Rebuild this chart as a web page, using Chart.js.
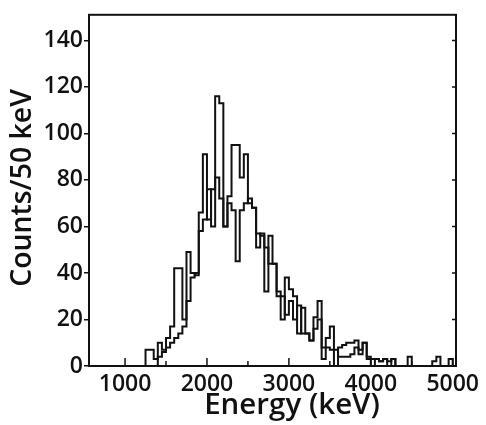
<!DOCTYPE html>
<html lang="en">
<head>
<meta charset="UTF-8">
<title>Energy spectrum</title>
<script src="https://cdn.jsdelivr.net/npm/chart.js"></script>
<style>
    body { margin: 0; background: #fff; }
    .wrap { width: 486px; height: 425px; position: relative; }
</style>
</head>
<body>
<div class="wrap"><canvas id="spectrum"></canvas></div>
<script>
// histogram data, 50 keV bins
const binWidth = 50;
const startA = 1250;
const countsA = [
    7, 7, 3, 10, 7, 12, 17, 42, 42, 20,      // 1250-1700
    49, 40, 39, 66, 91, 63, 76, 116, 113, 60, // 1750-2200
    73, 95, 95, 81, 91, 70, 68, 57, 56, 32,  // 2250-2700
    56, 44, 30, 20, 38, 33, 30, 14, 25, 14,  // 2750-3200
    11, 21, 28, 3, 12, 17, 0, 8, 9, 10,      // 3250-3700
    10, 11, 7, 10, 3, 3, 3, 2, 3, 0,         // 3750-4200
    3, 0, 0, 0, 4, 0, 0, 0, 0, 0,            // 4250-4700
    2, 4, 0, 0, 3                            // 4750-4950
];
const startB = 1400;
const countsB = [
    4, 6, 8, 10, 12, 14, 17,                 // 1400-1700
    28, 38, 40, 58, 63, 76, 60, 81, 72, 60,  // 1750-2200
    70, 67, 45, 67, 70, 72, 68, 51, 57, 51,  // 2250-2700
    44, 44, 32, 30, 22, 28, 20, 26, 14, 14,  // 2750-3200
    11, 16, 20, 8, 8, 7, 7, 4, 4, 4,         // 3250-3700
    5, 8, 5, 10, 4, 0, 3, 2, 3, 2,           // 3750-4200
    3                                        // 4250
];
const xTicks = [1000, 2000, 3000, 4000, 5000];
const xMinorTicks = [1500, 2500, 3500, 4500];
const yTicks = [0, 20, 40, 60, 80, 100, 120, 140];
const xTitle = 'Energy (keV)';
const yTitle = 'Counts/50 keV';

function toSteps(start, counts) {
    const pts = [{ x: start, y: 0 }];
    counts.forEach((c, i) => pts.push({ x: start + i * binWidth, y: c }));
    pts.push({ x: start + counts.length * binWidth, y: 0 });
    return pts;
}

// pick a font size so the title spans about the width seen in the original
function fitFont(ctx, text, width) {
    ctx.font = "600 24px 'Open Sans', sans-serif";
    const size = Math.min(30, 24 * width / ctx.measureText(text).width);
    return "600 " + size.toFixed(1) + "px 'Open Sans', sans-serif";
}

Chart.defaults.font.family = "'Open Sans', sans-serif";
Chart.defaults.font.weight = '600';
Chart.defaults.color = '#111';

// frame, inward ticks and axis titles
const framePlugin = {
    id: 'frame',
    afterDraw(chart) {
        const { ctx, chartArea: a, scales: { x, y } } = chart;
        ctx.save();
        ctx.strokeStyle = '#111';
        ctx.lineWidth = 2;
        ctx.strokeRect(a.left, a.top, a.right - a.left, a.bottom - a.top);
        ctx.lineWidth = 1.5;
        ctx.beginPath();
        xTicks.forEach(v => {
            const px = x.getPixelForValue(v);
            ctx.moveTo(px, a.bottom); ctx.lineTo(px, a.bottom - 8);
        });
        xMinorTicks.forEach(v => {
            const px = x.getPixelForValue(v);
            ctx.moveTo(px, a.bottom); ctx.lineTo(px, a.bottom - 5);
        });
        yTicks.forEach(v => {
            const py = y.getPixelForValue(v);
            ctx.moveTo(a.right, py); ctx.lineTo(a.right - 4, py);
        });
        ctx.stroke();

        ctx.fillStyle = '#111';
        ctx.textAlign = 'center';
        ctx.textBaseline = 'middle';
        ctx.font = fitFont(ctx, xTitle, 176);
        ctx.fillText(xTitle, 292, 406);
        ctx.font = fitFont(ctx, yTitle, 198);
        ctx.translate(23, 188);
        ctx.rotate(-Math.PI / 2);
        ctx.fillText(yTitle, 0, 0);
        ctx.restore();
    }
};

new Chart(document.getElementById('spectrum'), {
    type: 'line',
    data: {
        datasets: [
            {
                data: toSteps(startA, countsA),
                stepped: 'before',
                borderColor: '#111',
                borderWidth: 2,
                pointRadius: 0,
                fill: false
            },
            {
                data: toSteps(startB, countsB),
                stepped: 'before',
                borderColor: '#111',
                borderWidth: 2,
                pointRadius: 0,
                fill: false
            }
        ]
    },
    options: {
        responsive: true,
        maintainAspectRatio: false,
        animation: false,
        layout: { padding: { top: 13, right: 30, left: 0, bottom: 0 } },
        plugins: {
            legend: { display: false },
            tooltip: { enabled: false }
        },
        scales: {
            x: {
                type: 'linear',
                min: 560,
                max: 5040,
                afterBuildTicks: s => { s.ticks = xTicks.map(v => ({ value: v })); },
                afterFit: s => { s.height = 59; },
                grid: { display: false, drawTicks: false },
                border: { display: false },
                ticks: { font: { size: 23 }, padding: 5, maxRotation: 0, callback: v => String(v) }
            },
            y: {
                min: 0,
                max: 151,
                afterBuildTicks: s => { s.ticks = yTicks.map(v => ({ value: v })); },
                afterFit: s => { s.width = 89; },
                grid: { drawOnChartArea: false, drawTicks: true, tickLength: 5, color: '#111', lineWidth: 1.5 },
                border: { display: false },
                ticks: { font: { size: 23 }, padding: 1, callback: v => String(v) }
            }
        }
    },
    plugins: [framePlugin]
});
</script>
</body>
</html>
